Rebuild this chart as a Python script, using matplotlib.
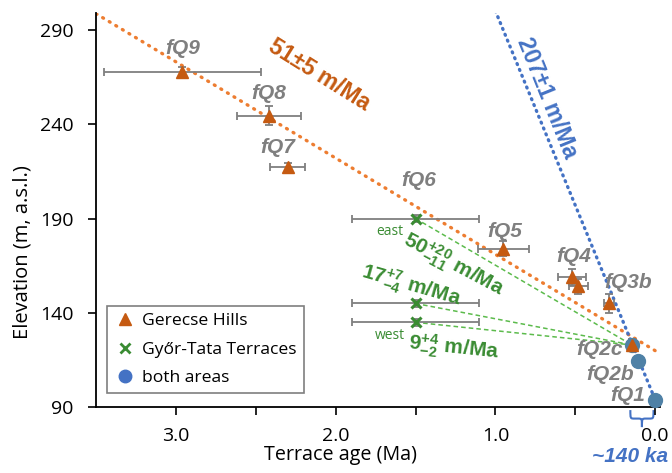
import matplotlib
matplotlib.use("Agg")
import matplotlib.pyplot as plt
from matplotlib.lines import Line2D
from matplotlib.path import Path
from matplotlib.patches import PathPatch

plt.rcParams['font.family'] = ['Open Sans', 'DejaVu Sans']
plt.rcParams['mathtext.fontset'] = 'custom'
plt.rcParams['mathtext.rm'] = 'Liberation Sans'
plt.rcParams['mathtext.bf'] = 'Liberation Sans:bold'

# Gerecse Hills terraces (triangles)
ger_age = [2.96, 2.42, 2.30, 0.95, 0.52, 0.48, 0.29, 0.145]
ger_elev = [267.5, 244.5, 217.5, 174.0, 159.0, 154.0, 145.0, 123.0]
ger_xerr = [0.49, 0.20, 0.11, 0.16, 0.09, 0.06, 0.03, 0.02]
ger_yerr = [3, 5, 2, 4, 4, 4, 5, 3]

# Gyor-Tata terraces (x markers): east, middle, west
gt_age = [1.5, 1.5, 1.5]
gt_elev = [190.0, 145.0, 135.0]
gt_xerr = [0.4, 0.4, 0.4]
gt_yerr = [2, 2, 2]

# both areas (circles): fQ2c, fQ2b, fQ1
both_age = [0.145, 0.105, 0.0]
both_elev = [123.0, 114.5, 94.0]

# trend lines
orange_age = [3.5, 0.0]
orange_elev = [298.5, 120.0]
blue_age = [1.0, -0.01]
blue_elev = [300.0, 92.0]
green_end = (0.145, 123.0)

# labels
fq_names = ["fQ9", "fQ8", "fQ7", "fQ6", "fQ5", "fQ4", "fQ3b", "fQ2c", "fQ2b", "fQ1"]
fq_age = [2.96, 2.42, 2.36, 1.48, 0.94, 0.51, 0.17, 0.35, 0.28, 0.17]
fq_elev = [280, 256, 227.5, 210, 183, 170, 156, 120.5, 107.5, 96]

c_orange = "#c55a11"
c_orange_line = "#ed7d31"
c_blue = "#4472c4"
c_circle = "#4f81a6"
c_green = "#3a8c33"
c_green_line = "#5cbb4c"
c_grey = "#7f7f7f"

fig = plt.figure(figsize=(6.72, 4.73), dpi=100)
ax = fig.add_axes([0.143, 0.139, 0.839, 0.834])

# trend lines
ax.plot(orange_age, orange_elev, linestyle=(0, (0.3, 2.0)), dash_capstyle="round",
        color=c_orange_line, lw=2.4, zorder=2)
ax.plot(blue_age, blue_elev, linestyle=(0, (0.3, 1.6)), dash_capstyle="round",
        color=c_blue, lw=2.4, zorder=2)
for a, e in zip(gt_age, gt_elev):
    ax.plot([a, green_end[0]], [e, green_end[1]], linestyle=(0, (3, 2)), color=c_green_line, lw=1.1, zorder=2)

# error bars
ax.errorbar(ger_age, ger_elev, xerr=ger_xerr, yerr=ger_yerr, fmt="none", ecolor=c_grey,
            elinewidth=1.3, capsize=3, capthick=1.3, zorder=3)
ax.errorbar(gt_age, gt_elev, xerr=gt_xerr, yerr=gt_yerr, fmt="none", ecolor=c_grey,
            elinewidth=1.3, capsize=3, capthick=1.3, zorder=3)

# markers
ax.plot(both_age, both_elev, "o", color=c_circle, ms=10, zorder=4, clip_on=False)
ax.plot(ger_age, ger_elev, "^", color=c_orange, ms=9, zorder=5)
ax.plot(gt_age, gt_elev, "x", color=c_green, ms=7, mew=2.2, zorder=5)

# terrace names
for n, a, e in zip(fq_names, fq_age, fq_elev):
    ax.text(a, e, n, color=c_grey, fontsize=15, fontweight="bold", fontstyle="italic",
            family="Liberation Sans", ha="center", va="center", zorder=6)

# rates
ax.text(2.10, 266, "51±5 m/Ma", color=c_orange, fontsize=16.5, fontweight="bold",
        family="Liberation Sans", rotation=-32, rotation_mode="anchor", ha="center", va="center")
ax.text(0.68, 254, "207±1 m/Ma", color=c_blue, fontsize=16.5, fontweight="bold",
        family="Liberation Sans", rotation=-68, rotation_mode="anchor", ha="center", va="center")
ax.text(1.26, 165.5, r"$\mathbf{50^{+20}_{-11}\ m/Ma}$", color=c_green, fontsize=15,
        rotation=-28, rotation_mode="anchor", ha="center", va="center")
ax.text(1.53, 154, r"$\mathbf{17^{+7}_{-4}\ m/Ma}$", color=c_green, fontsize=15,
        rotation=-16, rotation_mode="anchor", ha="center", va="center")
ax.text(1.26, 121.5, r"$\mathbf{9^{+4}_{-2}\ m/Ma}$", color=c_green, fontsize=15,
        rotation=-6, rotation_mode="anchor", ha="center", va="center")
ax.text(1.66, 183.3, "east", color=c_green, fontsize=10, ha="center", va="center")
ax.text(1.66, 128, "west", color=c_green, fontsize=10, ha="center", va="center")

# curly brace under the young terraces, spanning fQ2c to fQ1
a0, a1 = both_age[0] + 0.01, both_age[-1] + 0.01
am = (a0 + a1) / 2
ytop, ybot = 88.5, 79.5
ymid = (ytop + ybot) / 2
d = (a1 - a0) * 0.18
verts = [(a0, ytop), (a0, ymid), (a0, ymid), (a0 + d, ymid),
         (am - d, ymid), (am, ymid), (am, ymid), (am, ybot),
         (am, ymid), (am, ymid), (am + d, ymid),
         (a1 - d, ymid), (a1, ymid), (a1, ymid), (a1, ytop)]
codes = [Path.MOVETO, Path.CURVE4, Path.CURVE4, Path.CURVE4,
         Path.LINETO, Path.CURVE4, Path.CURVE4, Path.CURVE4,
         Path.CURVE4, Path.CURVE4, Path.CURVE4,
         Path.LINETO, Path.CURVE4, Path.CURVE4, Path.CURVE4]
ax.add_patch(PathPatch(Path(verts, codes), fill=False, edgecolor=c_blue, lw=1.5, clip_on=False))
ax.text(0.155, 64, "~140 ka", color=c_blue, fontsize=15, fontweight="bold", fontstyle="italic",
        family="Liberation Sans", ha="center", va="center", clip_on=False)

# axes
ax.set_xlim(3.5, -0.03)
ax.set_ylim(90, 299)
ax.set_xticks([3.0, 2.0, 1.0, 0.0])
ax.set_xticklabels(["3.0", "2.0", "1.0", "0.0"])
ax.set_xticks([2.5, 1.5, 0.5], minor=True)
ax.set_yticks([90, 140, 190, 240, 290])
ax.tick_params(axis="both", which="both", direction="out", length=6, width=1.2, labelsize=14)
ax.tick_params(axis="x", pad=8)
ax.tick_params(axis="y", pad=10)
for s in ["top", "right"]:
    ax.spines[s].set_visible(False)
for s in ["left", "bottom"]:
    ax.spines[s].set_linewidth(1.3)

ax.set_xlabel("Terrace age (Ma)", fontsize=14.2)
ax.set_ylabel("Elevation (m, a.s.l.)", fontsize=14.5)
ax.xaxis.set_label_coords(0.433, -0.095)
ax.yaxis.set_label_coords(-0.112, 0.394)

handles = [
    Line2D([], [], marker="^", color=c_orange, ls="none", ms=9),
    Line2D([], [], marker="x", color=c_green, ls="none", ms=7, mew=2),
    Line2D([], [], marker="o", color=c_blue, ls="none", ms=9),
]
leg = ax.legend(handles, ["Gerecse Hills", "Győr-Tata Terraces", "both areas"],
                loc="lower left", bbox_to_anchor=(0.02, 0.035), fontsize=12.6,
                fancybox=False, edgecolor=c_grey, framealpha=1, handletextpad=0.4,
                borderpad=0.4, labelspacing=0.7, handlelength=1.2, borderaxespad=0)
leg.get_frame().set_linewidth(1.2)

fig.savefig("out.png", dpi=100)
